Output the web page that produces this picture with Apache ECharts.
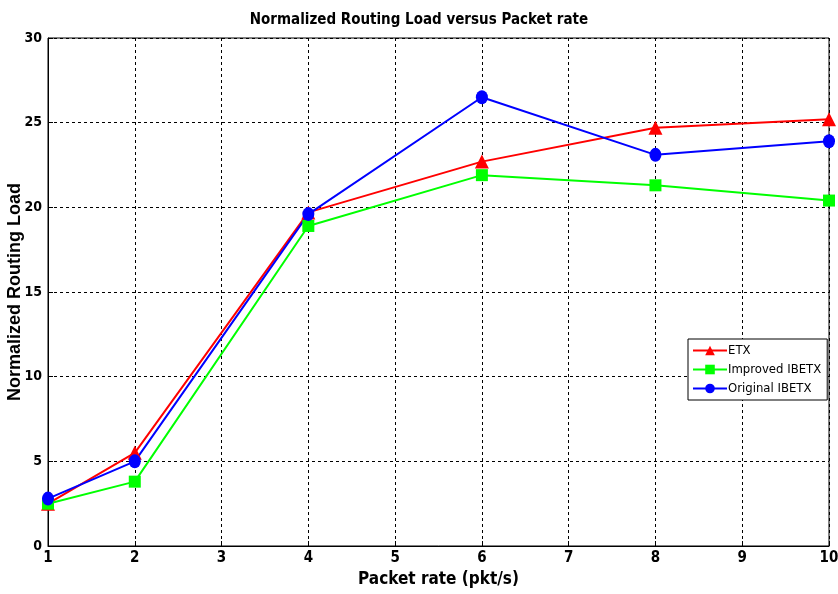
<!DOCTYPE html>
<html>
<head>
<meta charset="utf-8">
<script src="https://cdn.jsdelivr.net/npm/echarts@6/dist/echarts.min.js"></script>
<style>
  html, body { margin: 0; padding: 0; background: #fff; }
  #chart { width: 838px; height: 594px; }
</style>
</head>
<body>
<div id="chart"></div>
<script>
// packet rates (x) and the three series
const packetRate = [1, 2, 4, 6, 8, 10];
const etx = [2.5, 5.5, 19.7, 22.7, 24.7, 25.2];
const improvedIbetx = [2.5, 3.8, 18.9, 21.9, 21.3, 20.4];
const originalIbetx = [2.8, 5.0, 19.6, 26.5, 23.1, 23.9];

const FONT = '"DejaVu Sans Condensed", "Liberation Sans", Arial, sans-serif';

const pairs = (ys) => packetRate.map((x, i) => [x, ys[i]]);

const chart = echarts.init(document.getElementById('chart'));

const dashedGrid = { show: true, lineStyle: { color: '#000', type: [3, 3], width: 1 } };

chart.setOption({
  animation: false,
  title: {
    text: 'Normalized Routing Load versus Packet rate',
    left: 'center',
    top: 8,
    textStyle: { fontFamily: FONT, fontSize: 15, fontWeight: 'bold', color: '#000' }
  },
  grid: {
    left: 48, right: 9, top: 38, bottom: 48,
    outerBoundsMode: 'none',
    containLabel: false,
    show: true, borderColor: '#000', borderWidth: 1
  },
  legend: {
    orient: 'vertical',
    left: 688, top: 339,
    padding: [5, 6, 5, 4],
    itemGap: 6,
    itemWidth: 34,
    itemHeight: 12,
    borderColor: '#000',
    borderWidth: 1,
    backgroundColor: '#fff',
    textStyle: { fontFamily: FONT, fontSize: 13, color: '#000', padding: [0, 0, 0, -4] },
    data: ['ETX', 'Improved IBETX', 'Original IBETX']
  },
  xAxis: {
    type: 'value',
    min: 1, max: 10, interval: 1,
    name: 'Packet rate (pkt/s)',
    nameLocation: 'middle',
    nameGap: 25,
    nameTextStyle: { fontFamily: FONT, fontSize: 17, fontWeight: 'bold', color: '#000' },
    axisLine: { lineStyle: { color: '#000' } },
    axisTick: { inside: true, length: 5, lineStyle: { color: '#000' } },
    axisLabel: { fontFamily: FONT, fontSize: 15, fontWeight: 'bold', color: '#000', margin: 5 },
    splitLine: dashedGrid
  },
  yAxis: {
    type: 'value',
    min: 0, max: 30, interval: 5,
    name: 'Normalized Routing Load',
    nameLocation: 'middle',
    nameGap: 24,
    nameMoveOverlap: false,
    nameTextStyle: { fontFamily: '"Liberation Sans", Arial, sans-serif', fontSize: 18, fontWeight: 'bold', color: '#000' },
    axisLine: { show: true, lineStyle: { color: '#000' } },
    axisTick: { show: true, inside: true, length: 5, lineStyle: { color: '#000' } },
    axisLabel: { fontFamily: FONT, fontSize: 14, fontWeight: 'bold', color: '#000', margin: 6 },
    splitLine: dashedGrid
  },
  series: [
    {
      name: 'ETX', type: 'line', data: pairs(etx),
      symbol: 'triangle', symbolSize: 14,
      lineStyle: { color: '#ff0000', width: 2 },
      itemStyle: { color: '#ff0000' }
    },
    {
      name: 'Improved IBETX', type: 'line', data: pairs(improvedIbetx),
      symbol: 'rect', symbolSize: 12,
      lineStyle: { color: '#00ff00', width: 2 },
      itemStyle: { color: '#00ff00' }
    },
    {
      name: 'Original IBETX', type: 'line', data: pairs(originalIbetx),
      symbol: 'circle', symbolSize: [12, 14],
      lineStyle: { color: '#0000ff', width: 2 },
      itemStyle: { color: '#0000ff' }
    }
  ]
});
</script>
</body>
</html>
